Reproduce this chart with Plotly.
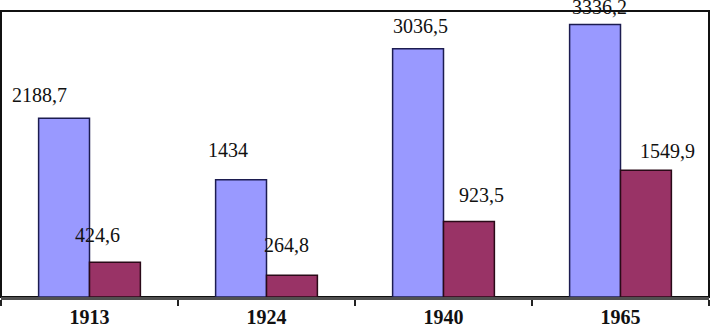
import plotly.graph_objects as go

years = ["1913", "1924", "1940", "1965"]
series_a = [2188.7, 1434, 3036.5, 3336.2]
series_b = [424.6, 264.8, 923.5, 1549.9]
labels_a = ["2188,7", "1434", "3036,5", "3336,2"]
labels_b = ["424,6", "264,8", "923,5", "1549,9"]

# label offsets in pixels: (x from bar centre, y above bar top)
shift_a = [(-25, 23), (-13.5, 30), (2.5, 23), (4, 17)]
shift_b = [(-18, 27), (-6, 30), (12, 27), (21.5, 19)]

fig = go.Figure()
fig.add_trace(go.Bar(x=years, y=series_a, marker=dict(color="#9999FF", line=dict(color="#1c1c50", width=1.5))))
fig.add_trace(go.Bar(x=years, y=series_b, marker=dict(color="#993366", line=dict(color="#2a0a18", width=1.5))))

serif = "Liberation Serif"
font = dict(family=serif, size=20, color="#111111")
bar_half = 25.5
for i in range(len(years)):
    fig.add_annotation(x=i, y=series_a[i], text=labels_a[i], showarrow=False, xref="x", yref="y",
                       xshift=-bar_half + shift_a[i][0], yshift=shift_a[i][1], font=font)
    fig.add_annotation(x=i, y=series_b[i], text=labels_b[i], showarrow=False, xref="x", yref="y",
                       xshift=bar_half + shift_b[i][0], yshift=shift_b[i][1], font=font)

fig.update_layout(
    width=711, height=328,
    margin=dict(l=1, r=2, t=11, b=31, autoexpand=False),
    barmode="group", bargap=0.425, bargroupgap=0,
    showlegend=False,
    font=dict(family=serif),
    plot_bgcolor="white", paper_bgcolor="white",
    xaxis=dict(type="category", range=[-0.5, 3.5], tickson="boundaries", ticks="outside", ticklen=6,
               tickcolor="#222", tickwidth=1.5, automargin=False,
               showline=True, linecolor="#505050", linewidth=3, showgrid=False,
               tickfont=dict(family=serif, size=20, color="#111111", weight="bold")),
    yaxis=dict(range=[0, 3500], showticklabels=False, showgrid=False, zeroline=False,
               showline=False, ticks="", automargin=False),
    shapes=[dict(type="rect", xref="paper", yref="paper", x0=0, x1=1, y0=0, y1=1,
                 line=dict(color="#111", width=2), layer="below")],
)
fig.write_html("out.html", config={"displayModeBar": False},
               post_script="document.body.style.margin='0px';document.body.style.overflow='hidden';")
